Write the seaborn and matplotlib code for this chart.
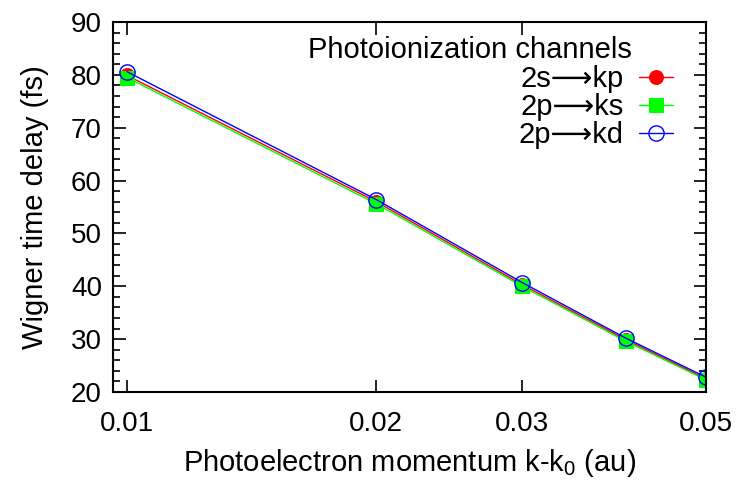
import numpy as np
import pandas as pd
import matplotlib
matplotlib.use("Agg")
import matplotlib.pyplot as plt
import seaborn as sns
from matplotlib.ticker import FixedLocator, FixedFormatter, MultipleLocator, NullLocator

momentum = [0.01, 0.02, 0.03, 0.04, 0.05]
delay_2s_kp = [79.9, 56.0, 40.3, 29.9, 22.5]
delay_2p_ks = [79.5, 55.6, 40.0, 29.6, 22.3]
delay_2p_kd = [80.6, 56.4, 40.7, 30.2, 22.8]
series_names = ["2s\u27f6kp", "2p\u27f6ks", "2p\u27f6kd"]
x_ticks = [0.01, 0.02, 0.03, 0.05]
x_tick_labels = ["0.01", "0.02", "0.03", "0.05"]

sns.set_style("ticks")
plt.rcParams['font.family'] = ['Liberation Sans', 'DejaVu Sans']
plt.rcParams['mathtext.fontset'] = 'custom'
plt.rcParams['mathtext.rm'] = 'Liberation Sans'
plt.rcParams['mathtext.it'] = 'Liberation Sans'
plt.rcParams['text.color'] = 'black'
plt.rcParams['axes.labelcolor'] = 'black'
plt.rcParams['xtick.color'] = 'black'
plt.rcParams['ytick.color'] = 'black'
plt.rcParams['axes.edgecolor'] = 'black'

FS = 21
TFS = 20

fig = plt.figure(figsize=(7.37, 4.8), dpi=100)
ax = fig.add_axes([113/737, 1-392/480, (706-113)/737, (392-22)/480])

styles = [
    dict(color="#ff0000", marker="o", markersize=10, markerfacecolor="#ff0000", markeredgecolor="#ff0000"),
    dict(color="#00ff00", marker="s", markersize=10, markerfacecolor="#00ff00", markeredgecolor="#00ff00"),
    dict(color="#0000ff", marker="o", markersize=11, markerfacecolor="none", markeredgecolor="#0000ff", markeredgewidth=1.0),
]
for name, vals, st in zip(series_names, [delay_2s_kp, delay_2p_ks, delay_2p_kd], styles):
    df = pd.DataFrame({"k": momentum, "t": vals})
    sns.lineplot(data=df, x="k", y="t", ax=ax, label=name, linewidth=1.0, **st)

ax.set_xscale("log")
ax.set_xlim(0.00962, 0.05)
ax.set_ylim(20, 90)
ax.xaxis.set_major_locator(FixedLocator(x_ticks))
ax.xaxis.set_major_formatter(FixedFormatter(x_tick_labels))
ax.xaxis.set_minor_locator(NullLocator())
ax.yaxis.set_major_locator(MultipleLocator(10))
ax.yaxis.set_minor_locator(MultipleLocator(2))
ax.tick_params(which="both", direction="in", top=True, right=True, width=1.2, labelsize=TFS)
ax.tick_params(which="major", length=9)
ax.tick_params(which="minor", length=5)
ax.tick_params(axis="x", pad=14)
ax.tick_params(axis="y", pad=8)
for s in ax.spines.values():
    s.set_linewidth(1.5)
    s.set_visible(True)

ax.set_xlabel("Photoelectron momentum k-k$_0$ (au)", fontsize=FS, labelpad=7)
ax.set_ylabel("Wigner time delay (fs)", fontsize=FS, labelpad=16)

ax.text((632-113)/593, 1-(36-22)/370, "Photoionization channels", transform=ax.transAxes,
        ha="right", va="top", fontsize=FS)
leg = ax.legend(loc="upper right", bbox_to_anchor=((673-113)/593, 1-(65-22)/370),
                frameon=False, fontsize=FS, markerfirst=False,
                handlelength=1.15, handletextpad=0.55, labelspacing=0.0, borderaxespad=0.0,
                borderpad=0.0)

fig.savefig("out.png", dpi=100)
